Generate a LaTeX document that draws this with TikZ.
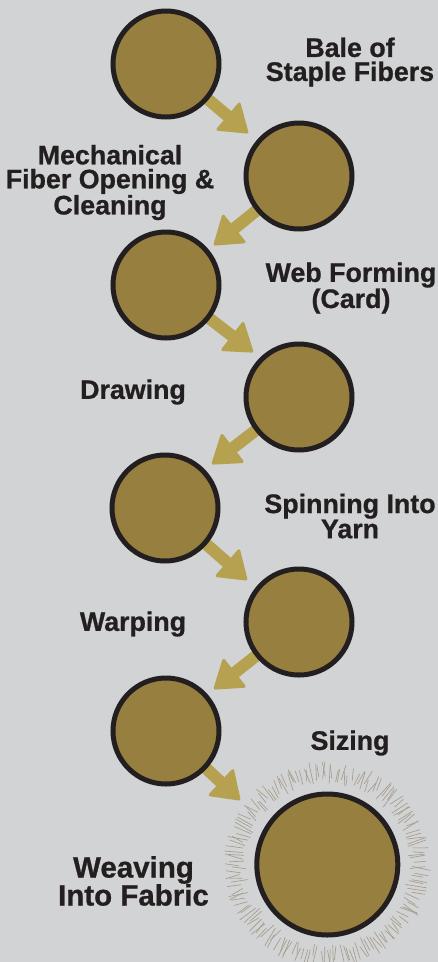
\documentclass[tikz,border=0pt]{standalone}
\usepackage{fontspec}
\setmainfont{Liberation Sans}[BoldFeatures={FakeBold=0.8}]
\usetikzlibrary{arrows.meta,backgrounds,calc}
\definecolor{bgc}{HTML}{D1D3D4}
\definecolor{gold}{HTML}{967F3F}
\definecolor{arrc}{HTML}{B5A150}
\definecolor{ink}{HTML}{231F20}
\definecolor{hair}{HTML}{A39A88}
\tikzset{
  disc/.style={circle,draw=ink,fill=gold,line width=5pt,minimum size=106pt,inner sep=0pt},
  bigdisc/.style={disc,minimum size=141pt},
  flow/.style={draw=arrc,line width=12pt,shorten <=-3pt,
    -{Triangle[width=38pt,length=28pt,round,line width=3pt,fill=arrc,color=arrc]}},
  lab/.style={text=ink,align=center,inner sep=0pt,font=\bfseries\fontsize{26.8}{24}\selectfont},
  biglab/.style={lab,font=\bfseries\fontsize{29.5}{28}\selectfont},
}
\begin{document}
\begin{tikzpicture}[x=1pt,y=-1pt]
\useasboundingbox (0,0) rectangle (438,962);
\begin{pgfonlayer}{background}
\fill[bgc] (0,0) rectangle (438,962);
\end{pgfonlayer}
\node[disc] (c1) at (166,64) {};
\node[disc] (c2) at (299,176) {};
\node[disc] (c3) at (166,285) {};
\node[disc] (c4) at (299,397) {};
\node[disc] (c5) at (165,508) {};
\node[disc] (c6) at (299,622) {};
\node[disc] (c7) at (166,731) {};
\node[bigdisc] (c8) at (327.3,864.5) {};
\coordinate (t1) at (248,133);
\coordinate (t2) at (214,245);
\coordinate (t3) at (253,352);
\coordinate (t4) at (212,464);
\coordinate (t5) at (247,580);
\coordinate (t6) at (214,689);
\coordinate (t7) at (240,800);
\begin{pgfonlayer}{background}
\draw[flow] (c1) -- (t1);
\draw[flow] (c2) -- (t2);
\draw[flow] (c3) -- (t3);
\draw[flow] (c4) -- (t4);
\draw[flow] (c5) -- (t5);
\draw[flow] (c6) -- (t6);
\draw[flow] (c7) -- (t7);
\end{pgfonlayer}
\pgfmathsetseed{4217}
\foreach \i in {0,...,164}{
  \pgfmathsetmacro{\ang}{\i*2.18+rnd*1.5}
  \pgfmathsetmacro{\rin}{80+rnd*9}
  \pgfmathsetmacro{\rout}{\rin+11+rnd*(104-\rin-11)}
  \pgfmathsetmacro{\tw}{(rnd-0.5)*4}
  \draw[hair,line width=0.6pt] ($(c8.center)+(\ang:\rin)$) -- ($(c8.center)+(\ang+\tw:\rout)$);
}
\node[lab] (l1) at (350,62) {Bale of\\Staple Fibers};
\node[lab] (l2) at (110,182.5) {Mechanical\\Fiber Opening \&\\Cleaning};
\node[lab] (l3) at (351,288) {Web Forming\\(Card)};
\node[lab] (l4) at (133,392) {Drawing};
\node[lab] (l5) at (350,516) {Spinning Into\\Yarn};
\node[lab] (l6) at (133,624) {Warping};
\node[lab] (l7) at (350,743) {Sizing};
\node[biglab] (l8) at (133.5,881) {Weaving\\Into Fabric};
\end{tikzpicture}
\end{document}
